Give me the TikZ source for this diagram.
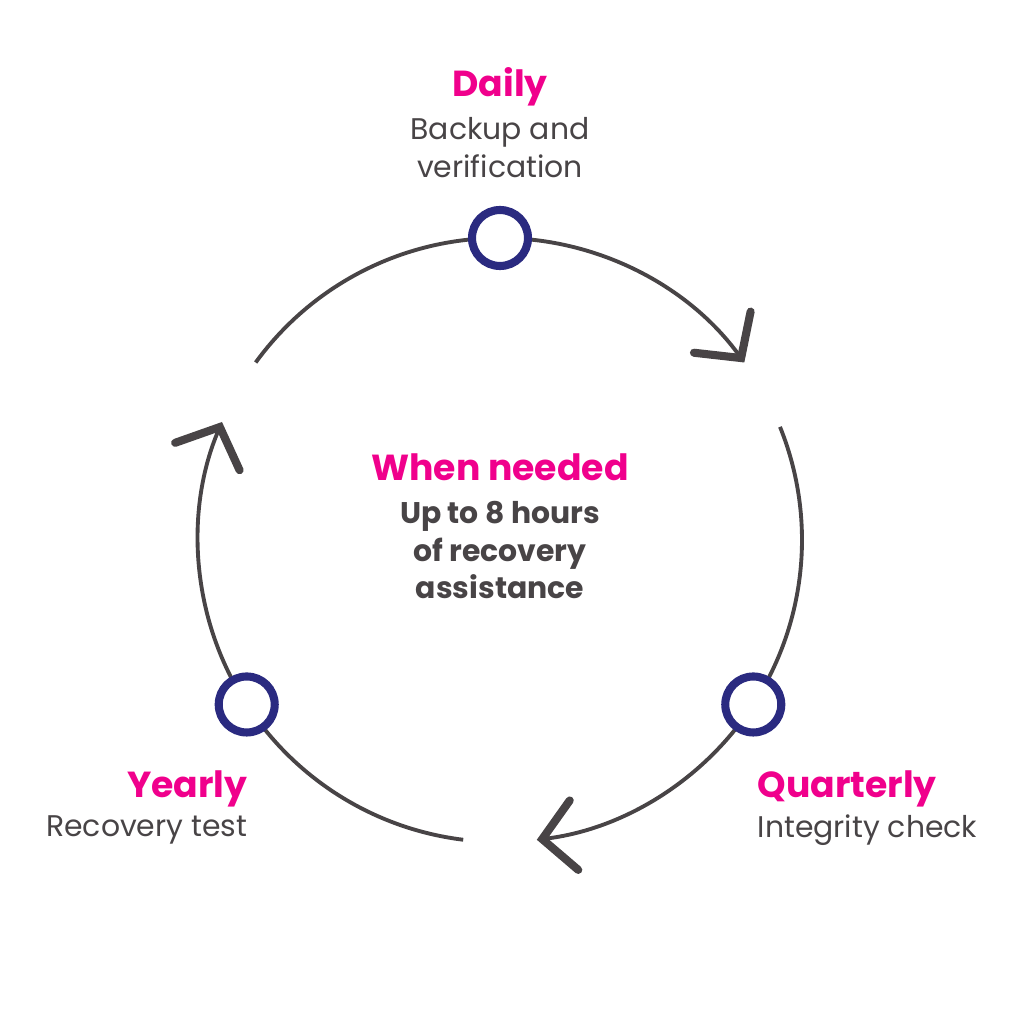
\documentclass[tikz,border=0pt]{standalone}
\usepackage{fontspec}
\setmainfont{Poppins}
\usetikzlibrary{arrows.meta,calc}
\definecolor{title_pink}{RGB}{240,0,140}
\definecolor{text_grey}{RGB}{72,68,70}
\definecolor{ring_blue}{RGB}{42,42,128}
\begin{document}
\begin{tikzpicture}
    \tikzset{
      cycle/.style={line width=1.1pt, draw=text_grey,
        -{Straight Barb[length=3.2mm,width=7mm,line width=2.3pt,line cap=round]}},
      marker/.style={draw=ring_blue, fill=white, circle, line width=2.3pt, minimum size=5.6mm, inner sep=0pt},
      title/.style={text=title_pink, font=\fontsize{10.3}{12}\selectfont\bfseries},
      body/.style={text=text_grey, font=\fontsize{8.5}{10.8}\selectfont, align=center}
    }
    \useasboundingbox (0,0) rectangle (10.24,10.24);
    \coordinate (C) at (5.00,4.84);

    % the three arcs of the cycle
    \draw[cycle] ($(C)+(144:3.02)$) arc[start angle=144, end angle=36, radius=3.02];
    \draw[cycle] ($(C)+(22:3.02)$) arc[start angle=22, end angle=-83, radius=3.02];
    \draw[cycle] ($(C)+(263:3.02)$) arc[start angle=263, end angle=157, radius=3.02];

    \node[marker] (daily) at ($(C)+(90:3.02)$) {};
    \node[marker] (quarterly) at ($(C)+(-33:3.02)$) {};
    \node[marker] (yearly) at ($(C)+(213:3.02)$) {};

    \node[title] (dailyT) at (5.00,9.37) {Daily};
    \node[body] (dailyB) at (5.00,8.76) {Backup and\\verification};
    \node[title] (neededT) at (5.00,5.57) {When needed};
    \node[body, font=\fontsize{8.5}{10.8}\selectfont\bfseries] (neededB) at (5.00,4.74) {Up to 8 hours\\of recovery\\assistance};
    \node[title, anchor=west, inner sep=0pt] (quarterlyT) at (7.57,2.35) {Quarterly};
    \node[body, anchor=west, inner sep=0pt] (quarterlyB) at (7.57,1.94) {Integrity check};
    \node[title, anchor=east, inner sep=0pt] (yearlyT) at (2.48,2.35) {Yearly};
    \node[body, anchor=east, inner sep=0pt] (yearlyB) at (2.48,1.94) {Recovery test};
\end{tikzpicture}
\end{document}
